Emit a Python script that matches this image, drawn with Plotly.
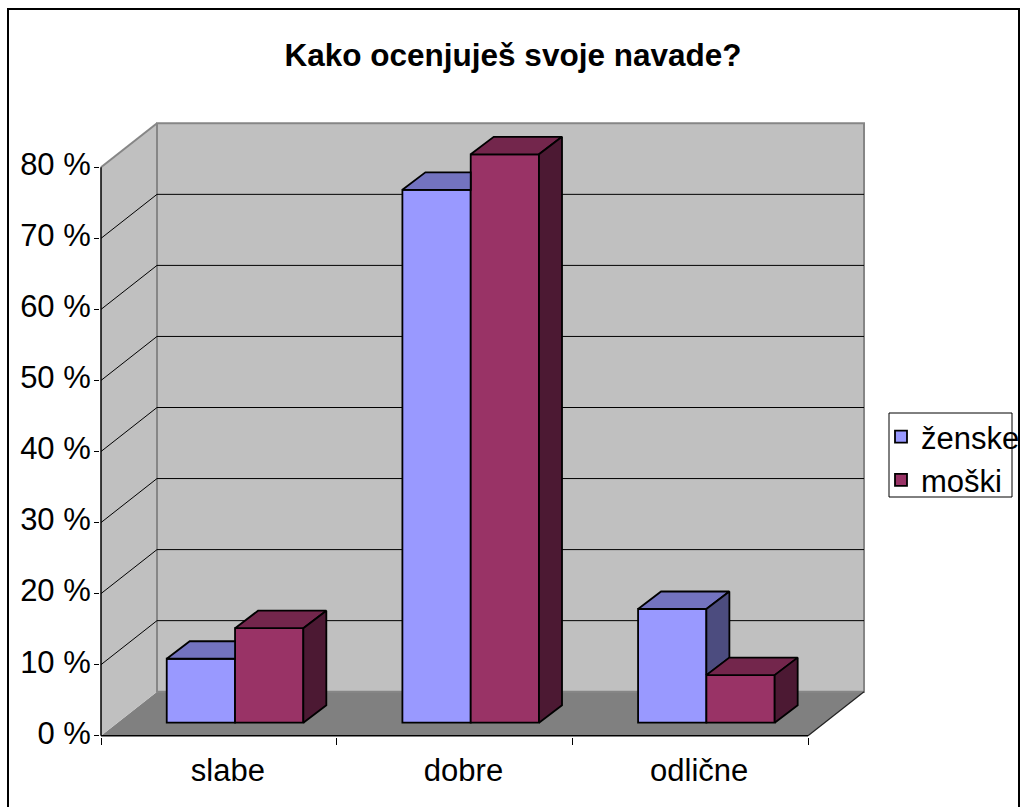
import plotly.graph_objects as go

# ---------------- data ----------------
categories = ["slabe", "dobre", "odlične"]
zenske = [9.0, 75.0, 16.0]
moski = [13.3, 80.0, 6.7]
series_names = ["ženske", "moški"]
y_ticks = [0, 10, 20, 30, 40, 50, 60, 70, 80]
y_tick_labels = [f"{v} %" for v in y_ticks]
title_text = "Kako ocenjuješ svoje navade?"

# ---------------- geometry (pixels -> axis units) ----------------
W_FIG, H_FIG = 1023, 807
L, R, T, B = 100, 143, 115, 70
PW = W_FIG - L - R
PH = H_FIG - T - B
PX_X = 235.67          # px per category unit
PX_Y = 7.105           # px per percent
x0 = -0.5 - 1.0 / PX_X
x1 = x0 + PW / PX_X
y0 = -1.3 / PX_Y
y1 = y0 + PH / PX_Y

DXW, DYW = 56 / PX_X, 44 / PX_Y        # wall depth
FX, FY = 16.2 / PX_X, 13 / PX_Y        # bar front offset
BX, BY = 23 / PX_X, 17.5 / PX_Y        # bar depth
BW = 68.3 / PX_X                       # bar width
offsets = [-BW + FX, FX]
YMAX = y_ticks[-1]
XL, XR = -0.5, len(categories) - 0.5

def paper_x(px):
    return (px - L) / PW

def paper_y(py):
    return (H_FIG - B - py) / PH

colors = {
    "front": ["#9999FF", "#993366"],
    "top": ["#7373BF", "#73264C"],
    "side": ["#4C4C7F", "#4C1933"],
}
EDGE = dict(color="black", width=1.8)

fig = go.Figure()
xs = list(range(len(categories)))
for s, vals in enumerate([zenske, moski]):
    fig.add_trace(go.Bar(
        x=xs, y=vals, base=FY, width=BW, offset=offsets[s],
        name=series_names[s],
        marker=dict(color=colors["front"][s], line=EDGE),
        hoverinfo="skip",
    ))

def poly(pts, fill):
    xs_ = [p[0] for p in pts] + [pts[0][0]]
    ys_ = [p[1] for p in pts] + [pts[0][1]]
    fig.add_trace(go.Scatter(
        x=xs_, y=ys_, mode="lines", fill="toself", fillcolor=fill,
        line=EDGE, showlegend=False, hoverinfo="skip",
    ))

for i in range(len(categories)):
    hz = FY + zenske[i]
    hm = FY + moski[i]
    # ženske (behind moški's front face)
    xl = i + offsets[0]
    xr = xl + BW
    if hm >= hz:
        poly([(xl, hz), (xr, hz), (xr, hz + BY), (xl + BX, hz + BY)], colors["top"][0])
    else:
        poly([(xl, hz), (xr, hz), (xr + BX, hz + BY), (xl + BX, hz + BY)], colors["top"][0])
        poly([(xr, hm), (xr, hz), (xr + BX, hz + BY), (xr + BX, hm + BY)], colors["side"][0])
    # moški
    xl = i + offsets[1]
    xr = xl + BW
    poly([(xl, hm), (xr, hm), (xr + BX, hm + BY), (xl + BX, hm + BY)], colors["top"][1])
    poly([(xr, FY), (xr, hm), (xr + BX, hm + BY), (xr + BX, FY + BY)], colors["side"][1])

shapes = []
def path(pts, **kw):
    d = "M" + " L".join(f"{x},{y}" for x, y in pts)
    if kw.pop("close", False):
        d += " Z"
    shapes.append(dict(type="path", path=d, xref="x", yref="y", layer="below", **kw))

# floor
path([(XL, 0), (XR, 0), (XR + DXW, DYW), (XL + DXW, DYW)], close=True,
     fillcolor="#808080", line=dict(width=0))
# side wall
path([(XL, 0), (XL, YMAX), (XL + DXW, YMAX + DYW), (XL + DXW, DYW)], close=True,
     fillcolor="#C0C0C0", line=dict(width=0))
# back wall
shapes.append(dict(type="rect", xref="x", yref="y", layer="below",
                   x0=XL + DXW, x1=XR + DXW, y0=DYW, y1=YMAX + DYW,
                   fillcolor="#C0C0C0", line=dict(color="#868686", width=2)))
# gridlines
for v in y_ticks[1:-1]:
    path([(XL, v), (XL + DXW, v + DYW), (XR + DXW, v + DYW)], line=dict(color="black", width=1))
path([(XL, YMAX), (XL + DXW, YMAX + DYW)], line=dict(color="#868686", width=2))
# floor right edge
path([(XR, 0), (XR + DXW, DYW)], line=dict(color="#202020", width=1.2))
# axis lines
path([(XL, 0), (XL, YMAX)], line=dict(color="black", width=1.5))
path([(XL, 0), (XR, 0)], line=dict(color="black", width=1.5))

# legend box and outer border
shapes.append(dict(type="rect", xref="paper", yref="paper", layer="below",
                   x0=paper_x(889), x1=paper_x(1012), y0=paper_y(497), y1=paper_y(413),
                   line=dict(color="black", width=1)))
shapes.append(dict(type="rect", xref="paper", yref="paper", layer="below",
                   x0=paper_x(8), x1=paper_x(1019), y0=paper_y(830), y1=paper_y(9),
                   line=dict(color="black", width=2)))

FONT = "Liberation Sans, Arial, sans-serif"
fig.update_layout(
    width=W_FIG, height=H_FIG,
    margin=dict(l=L, r=R, t=T, b=B, autoexpand=False),
    paper_bgcolor="white", plot_bgcolor="white",
    font=dict(family=FONT, size=31, color="black"),
    barmode="overlay",
    shapes=shapes,
    title=dict(text=f"<b>{title_text}</b>", x=513 / W_FIG, xref="container", xanchor="center",
               y=1 - 55 / H_FIG, yref="container", yanchor="middle",
               font=dict(family=FONT, size=31.5, color="black")),
    legend=dict(x=paper_x(881), y=paper_y(410), xanchor="left", yanchor="top",
                bgcolor="rgba(0,0,0,0)", borderwidth=0, itemwidth=30,
                font=dict(family=FONT, size=31, color="black"), tracegroupgap=0),
    xaxis=dict(range=[x0, x1], showgrid=False, zeroline=False, showline=False,
               tickmode="array", tickvals=xs, ticktext=categories, ticks="",
               ticklabelshift=9, ticklabelstandoff=12,
               minor=dict(tickmode="array", tickvals=[k - 0.5 for k in range(len(categories) + 1)],
                          ticks="outside", ticklen=7, tickcolor="black", tickwidth=1, showgrid=False),
               fixedrange=True),
    yaxis=dict(range=[y0, y1], showgrid=False, zeroline=False, showline=False,
               tickmode="array", tickvals=y_ticks, ticktext=y_tick_labels,
               ticks="outside", ticklen=5, tickcolor="black", tickwidth=1,
               ticklabelshift=-3, ticklabelstandoff=-3, fixedrange=True),
    showlegend=True,
)

fig.write_html("out.html", config={"displayModeBar": False},
               post_script="document.body.style.margin='0px';document.body.style.overflow='hidden';")
